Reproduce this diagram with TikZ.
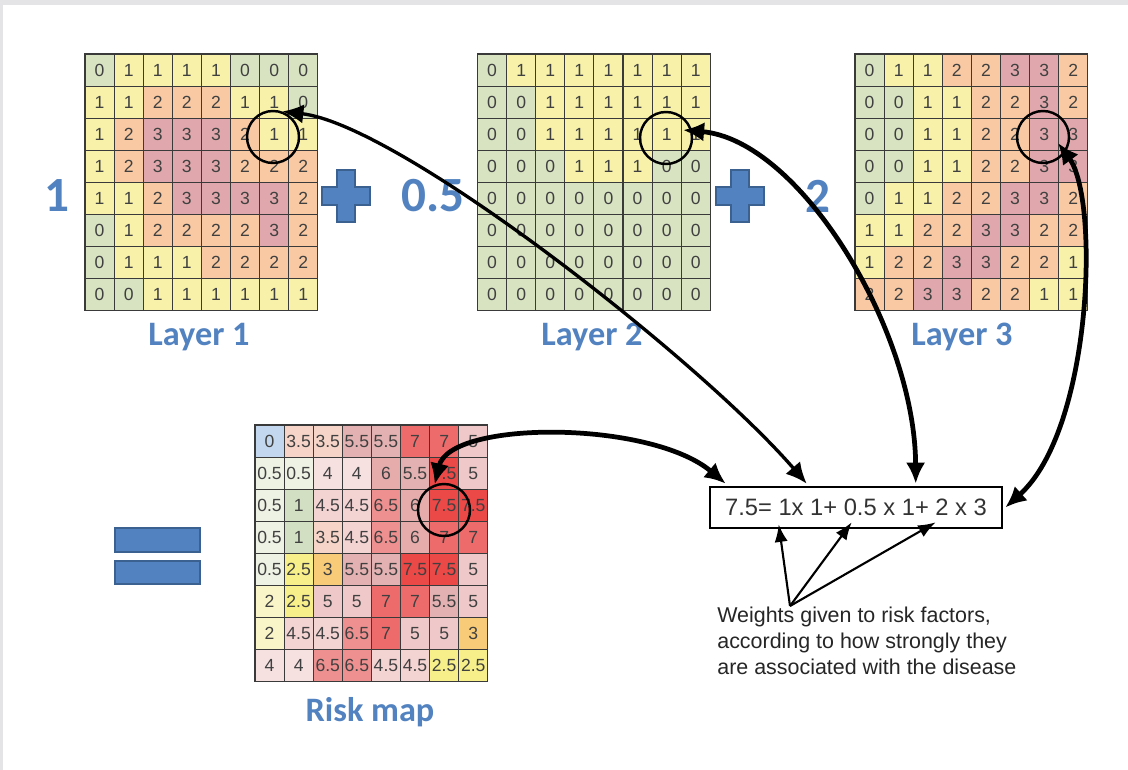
\documentclass[tikz,border=0pt]{standalone}
\usepackage{fontspec}
\setmainfont{Liberation Sans}
\newfontfamily\calfont{Carlito}
\usetikzlibrary{arrows.meta,calc}
% layer colours
\definecolor{g0}{HTML}{D8E3C2}
\definecolor{g1}{HTML}{F7F1AA}
\definecolor{g2}{HTML}{F8C9A2}
\definecolor{g3}{HTML}{E0A8AC}
% risk colours (index = 2*value)
\definecolor{rk0}{HTML}{C3D7EE}
\definecolor{rk1}{HTML}{EEF2E4}
\definecolor{rk2}{HTML}{D2DFC2}
\definecolor{rk3}{HTML}{E6EDC8}
\definecolor{rk4}{HTML}{FAF5C8}
\definecolor{rk5}{HTML}{F7F08A}
\definecolor{rk6}{HTML}{F8CB78}
\definecolor{rk7}{HTML}{F6D5C8}
\definecolor{rk8}{HTML}{F6E0E0}
\definecolor{rk9}{HTML}{F4D3D3}
\definecolor{rk10}{HTML}{EFC9C9}
\definecolor{rk11}{HTML}{E3B1B1}
\definecolor{rk12}{HTML}{E6ACAC}
\definecolor{rk13}{HTML}{EE9090}
\definecolor{rk14}{HTML}{EE6B6B}
\definecolor{rk15}{HTML}{EB4848}
\definecolor{gridc}{HTML}{3A3A3A}
\definecolor{celltxt}{HTML}{404040}
\definecolor{wblue}{HTML}{5282C0}
\definecolor{wdark}{HTML}{3B6190}
\definecolor{frame}{HTML}{E4E4E6}
\newcommand\layergrid[4]{%
  \foreach \row [count=\r] in {#4} {
    \foreach \v [count=\c] in \row {
      \node[cell, fill=g\v] (#1-\r-\c) at ({#2+(\c-0.5)*29.1},{#3+(\r-0.5)*32.1}) {\v};
    }
  }}
\tikzset{
  cell/.style={draw=gridc, line width=0.6pt, minimum width=0.582cm, minimum height=0.642cm,
    inner sep=0pt, font=\fontsize{10}{12}\selectfont, text=celltxt},
  ring/.style={circle, draw=black, line width=1.4pt, minimum size=1.04cm, inner sep=0pt},
  bigarrow/.style={line width=2.7pt, {Latex[length=12pt,width=11pt]}-{Latex[length=12pt,width=11pt]}},
  warrow/.style={line width=1.2pt, -{Latex[length=10pt,width=7.5pt]}},
  layerlabel/.style={font=\calfont\bfseries\fontsize{19.5}{22}\selectfont, text=wblue},
  weightnum/.style={font=\calfont\bfseries\fontsize{28}{30}\selectfont, text=wblue},
  plussign/.pic={\filldraw[fill=wblue, draw=wdark, line width=1pt]
    (-9,-26) -- (9,-26) -- (9,-9) -- (24,-9) -- (24,9) -- (9,9) -- (9,26) -- (-9,26)
    -- (-9,9) -- (-24,9) -- (-24,-9) -- (-9,-9) -- cycle;},
  eqbar/.style={fill=wblue, draw=wdark, line width=1pt}
}
\begin{document}
\begin{tikzpicture}[x=0.02cm,y=-0.02cm]
\useasboundingbox (0,0) rectangle (1128,770);
\fill[frame] (0,0) rectangle (1128,770);
\fill[white] (3,5) rectangle (1128,770);

% Layer 1
\layergrid{L1}{85}{54}{{0,1,1,1,1,0,0,0},{1,1,2,2,2,1,1,0},{1,2,3,3,3,2,1,1},{1,2,3,3,3,2,2,2},{1,1,2,3,3,3,3,2},{0,1,2,2,2,2,3,2},{0,1,1,1,2,2,2,2},{0,0,1,1,1,1,1,1}}
% Layer 2
\layergrid{L2}{477.5}{54}{{0,1,1,1,1,1,1,1},{0,0,1,1,1,1,1,1},{0,0,1,1,1,1,1,1},{0,0,0,1,1,1,0,0},{0,0,0,0,0,0,0,0},{0,0,0,0,0,0,0,0},{0,0,0,0,0,0,0,0},{0,0,0,0,0,0,0,0}}
% Layer 3
\layergrid{L3}{855}{54}{{0,1,1,2,2,3,3,2},{0,0,1,1,2,2,3,2},{0,0,1,1,2,2,3,3},{0,0,1,1,2,2,3,3},{0,1,1,2,2,3,3,2},{1,1,2,2,3,3,2,2},{1,2,2,3,3,2,2,1},{2,2,3,3,2,2,1,1}}
% Risk map
\foreach \row [count=\r] in {{0,3.5,3.5,5.5,5.5,7,7,5},{0.5,0.5,4,4,6,5.5,7.5,5},{0.5,1,4.5,4.5,6.5,6,7.5,7.5},{0.5,1,3.5,4.5,6.5,6,7,7},{0.5,2.5,3,5.5,5.5,7.5,7.5,5},{2,2.5,5,5,7,7,5.5,5},{2,4.5,4.5,6.5,7,5,5,3},{4,4,6.5,6.5,4.5,4.5,2.5,2.5}} {
  \foreach \v [count=\c] in \row {
    \pgfmathtruncatemacro\k{round(2*\v)}
    \node[cell, fill=rk\k] (R-\r-\c) at ({255+(\c-0.5)*29.1},{425+(\r-0.5)*32.1}) {\v};
  }
}

% labels
\node[layerlabel] (lab1) at (199,337) {Layer 1};
\node[layerlabel] (lab2) at (592,337) {Layer 2};
\node[layerlabel] (lab3) at (962,337) {Layer 3};
\node[layerlabel] (labr) at (370,712) {Risk map};

% weights and operators
\node[weightnum] (w1) at (57,196) {1};
\node[weightnum] (w2) at (433,196) {0.5};
\node[weightnum] (w3) at (818,196) {2};
\pic at (346,196) {plussign};
\pic at (740,196) {plussign};
\draw[eqbar] (115,528) rectangle (200,552);
\draw[eqbar] (115,561) rectangle (200,584);

% equation box
\node[draw=black, line width=1.5pt, minimum width=5.84cm, minimum height=0.82cm, inner sep=0pt,
  font=\fontsize{13.5}{16}\selectfont, text={black!80}] (eq) at (856,507.5) {7.5= 1x 1+ 0.5 x 1+ 2 x 3};

% circles
\node[ring] (c1) at (273,137) {};
\node[ring] (c2) at (666,138) {};
\node[ring] (c3) at (1043,137) {};
\node[ring] (c4) at (444,510) {};

% connectors
\draw[bigarrow, line width=1.9pt] (c1.70) .. controls (400,125) and (700,360) .. ($(eq.north west)+(98,-2)$);
\draw[bigarrow] ($(c2.center)+(17,-8)$) .. controls (800,140) and (915,330) .. ($(eq.north west)+(207,-2)$);
\draw[bigarrow] ($(c3.center)+(15,6)$) .. controls (1100,200) and (1092,430) .. ($(eq.east)+(2,0)$);
\draw[bigarrow] (c4.110) .. controls (450,420) and (650,420) .. ($(eq.north west)+(17,-2)$);

% weights annotation
\node[anchor=west, align=left, inner sep=0pt, font=\fontsize{12.2}{14.7}\selectfont, text={black!85}] (wtxt) at (717,641)
  {Weights given to risk factors,\\according to how strongly they\\are associated with the disease};
\coordinate (wp) at (790,606);
\draw[warrow] (wp) -- ($(eq.south west)+(70,-5)$);
\draw[warrow] (wp) -- ($(eq.south west)+(143,-7)$);
\draw[warrow] (wp) -- ($(eq.south west)+(227,-7)$);
\end{tikzpicture}
\end{document}
